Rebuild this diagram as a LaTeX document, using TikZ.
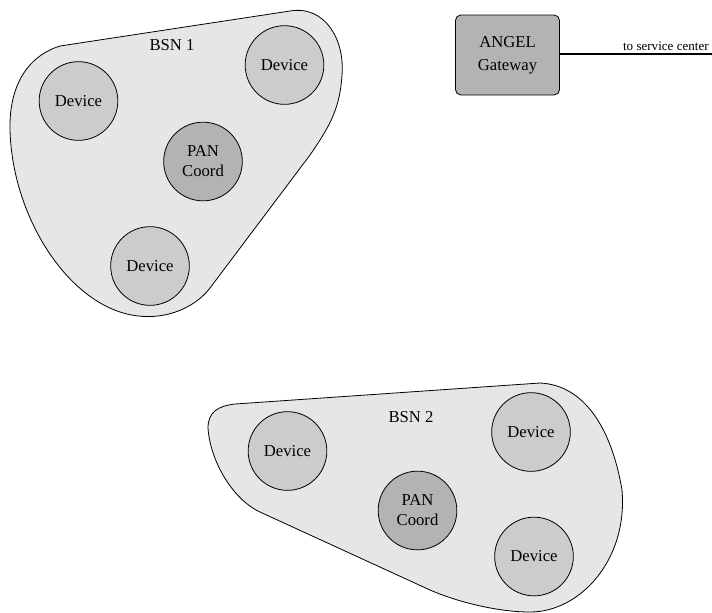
\documentclass[tikz,border=0pt]{standalone}
\usepackage{fontspec}
\setmainfont{Liberation Serif}
\usepackage{xcolor}
\usepackage{tikz}
\usetikzlibrary{positioning}
\definecolor{blobgray}{HTML}{E6E6E6}
\definecolor{devgray}{HTML}{CCCCCC}
\definecolor{pangray}{HTML}{B3B3B3}

\begin{document}
\begin{tikzpicture}[x=0.75pt, y=-0.75pt,
    blob/.style={draw, fill=blobgray, line width=0.6pt},
    device/.style={circle, draw, fill=devgray, minimum size=59pt, inner sep=0pt, align=center,
      font=\fontsize{12.5}{15}\selectfont, line width=0.6pt},
    coord/.style={device, fill=pangray},
    gateway/.style={rectangle, rounded corners=4pt, draw, fill=pangray, minimum width=78pt,
      minimum height=60pt, align=center, font=\fontsize{12.5}{17}\selectfont, line width=0.6pt}]
      \useasboundingbox (0,0) rectangle (712,612);

      % BSN 1
      \draw[blob] (60,46) -- (290,11) .. controls (325,5) and (345,40) .. (342,75)
        .. controls (340,108) and (330,126) .. (310,155) -- (210,288)
        .. controls (195,308) and (160,325) .. (120,312)
        .. controls (60,292) and (12,210) .. (10,130)
        .. controls (9,85) and (28,56) .. (60,46) -- cycle;
      \node (L1) at (172,45) [font=\fontsize{12.5}{15}\selectfont] {BSN 1};
      \node (D1) at (78.5,101) [device] {Device};
      \node (D2) at (284.5,65) [device] {Device};
      \node (P1) at (203,161.5) [coord] {PAN\\Coord};
      \node (D3) at (150,266) [device] {Device};

      % BSN 2
      \draw[blob] (235,404) -- (540,383) .. controls (585,385) and (612,430) .. (622,490)
        .. controls (628,560) and (580,612) .. (530,612)
        .. controls (500,612) and (460,603) .. (430,590) -- (260,512)
        .. controls (232,499) and (210,460) .. (208,428)
        .. controls (208,412) and (218,406) .. (235,404) -- cycle;
      \node (L2) at (411,417) [font=\fontsize{12.5}{15}\selectfont] {BSN 2};
      \node (D4) at (287.5,451) [device] {Device};
      \node (D5) at (531,432) [device] {Device};
      \node (P2) at (417.5,510.5) [coord] {PAN\\Coord};
      \node (D6) at (534,556.5) [device] {Device};

      % Gateway
      \node (G) at (507.5,55) [gateway] {ANGEL\\Gateway};
      \coordinate (S) at (712,54);
      \draw[line width=1pt] (G.east |- S) -- node[pos=1, anchor=south east, inner sep=2pt,
        font=\fontsize{9.8}{12}\selectfont] {to service center} (S);
    \end{tikzpicture}
\end{document}
